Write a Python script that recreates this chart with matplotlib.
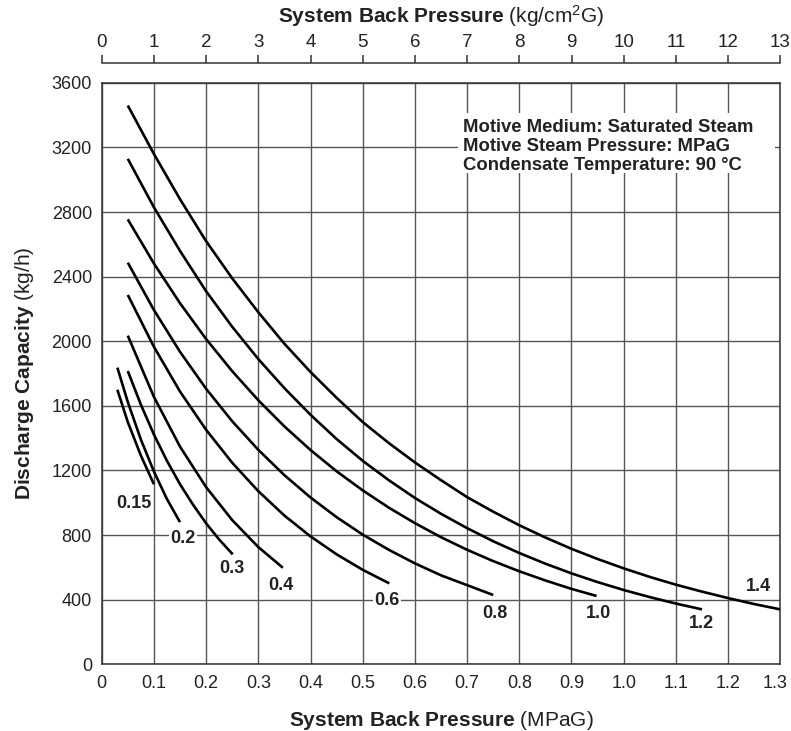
import matplotlib
matplotlib.use('Agg')
import matplotlib.pyplot as plt
import matplotlib.transforms as mtrans
from matplotlib.patches import Rectangle

plt.rcParams['font.family'] = ['Liberation Sans', 'DejaVu Sans']
plt.rcParams['mathtext.fontset'] = 'custom'
plt.rcParams['mathtext.rm'] = 'Liberation Sans'
plt.rcParams['mathtext.bf'] = 'Liberation Sans:bold'
plt.rcParams['mathtext.it'] = 'Liberation Sans:italic'

# ---------------- data ----------------
curve_names = ['0.15', '0.2', '0.3', '0.4', '0.6', '0.8', '1.0', '1.2', '1.4']

x_015 = [0.03, 0.05, 0.075, 0.10]
y_015 = [1700, 1500, 1293, 1115]

x_02 = [0.03, 0.05, 0.075, 0.10, 0.125, 0.15]
y_02 = [1837, 1624, 1392, 1194, 1023, 880]

x_03 = [0.05, 0.075, 0.10, 0.125, 0.15, 0.175, 0.20, 0.225, 0.251]
y_03 = [1816, 1608, 1423, 1260, 1115, 988, 873, 773, 681]

x_04 = [0.05, 0.10, 0.15, 0.20, 0.25, 0.30, 0.347]
y_04 = [2035, 1656, 1348, 1097, 893, 726, 598]

x_06 = [0.05, 0.10, 0.15, 0.20, 0.25, 0.30, 0.35, 0.40, 0.45, 0.50, 0.551]
y_06 = [2287, 1966, 1689, 1452, 1248, 1072, 921, 792, 681, 585, 501]

x_08 = [0.05, 0.10, 0.15, 0.20, 0.25, 0.30, 0.35, 0.40, 0.45, 0.50, 0.55,
        0.60, 0.65, 0.70, 0.75]
y_08 = [2487, 2194, 1935, 1706, 1505, 1328, 1171, 1033, 911, 803, 709,
        625, 551, 490, 429]

x_10 = [0.05, 0.10, 0.15, 0.20, 0.25, 0.30, 0.35, 0.40, 0.45, 0.50, 0.55,
        0.60, 0.65, 0.70, 0.75, 0.80, 0.85, 0.90, 0.948]
y_10 = [2755, 2482, 2236, 2014, 1815, 1635, 1473, 1327, 1195, 1077, 970,
        874, 787, 709, 639, 576, 519, 467, 423]

x_12 = [0.05, 0.10, 0.15, 0.20, 0.25, 0.30, 0.35, 0.40, 0.45, 0.50, 0.55,
        0.60, 0.65, 0.70, 0.75, 0.80, 0.85, 0.90, 0.95, 1.00, 1.05, 1.10, 1.15]
y_12 = [3130, 2830, 2560, 2310, 2090, 1890, 1710, 1545, 1395, 1260, 1140,
        1030, 932, 843, 762, 689, 623, 563, 509, 460, 416, 376, 340]

x_14 = [0.05, 0.10, 0.15, 0.20, 0.25, 0.30, 0.35, 0.40, 0.45, 0.50, 0.55,
        0.60, 0.65, 0.70, 0.75, 0.80, 0.85, 0.90, 0.95, 1.00, 1.05, 1.10,
        1.15, 1.20, 1.25, 1.30]
y_14 = [3460, 3160, 2880, 2620, 2390, 2180, 1985, 1810, 1650, 1500, 1370,
        1250, 1140, 1035, 945, 861, 785, 715, 652, 594, 541, 493,
        450, 410, 373, 340]

x_ticks_mpa = [0, 0.1, 0.2, 0.3, 0.4, 0.5, 0.6, 0.7, 0.8, 0.9, 1.0, 1.1, 1.2, 1.3]
x_ticklabels_mpa = ['0', '0.1', '0.2', '0.3', '0.4', '0.5', '0.6', '0.7', '0.8',
                    '0.9', '1.0', '1.1', '1.2', '1.3']
x_ticks_kg = list(range(0, 14))
y_ticks = [0, 400, 800, 1200, 1600, 2000, 2400, 2800, 3200, 3600]

note_lines = ['Motive Medium: Saturated Steam',
              'Motive Steam Pressure: MPaG',
              'Condensate Temperature: 90 \u00b0C']

# ---------------- layout (not data) ----------------
label_pos = [(0.061, 997), (0.156, 780), (0.249, 594), (0.343, 491),
             (0.546, 394), (0.753, 316), (0.951, 316), (1.149, 254),
             (1.258, 481)]

series_x = [x_015, x_02, x_03, x_04, x_06, x_08, x_10, x_12, x_14]
series_y = [y_015, y_02, y_03, y_04, y_06, y_08, y_10, y_12, y_14]

TXT = '#222222'
W, H = 791, 731
fig = plt.figure(figsize=(W / 100, H / 100), dpi=100)
ax = fig.add_axes([101.7 / W, 1 - 664.3 / H, 678.6 / W, 581.4 / H])

ax.set_xlim(0, 1.3)
ax.set_ylim(0, 3600)
ax.set_xticks(x_ticks_mpa)
ax.set_xticklabels(x_ticklabels_mpa)
ax.set_yticks(y_ticks)
ax.tick_params(axis='both', length=0, labelsize=13, colors=TXT)
ax.tick_params(axis='x', pad=8)
ax.tick_params(axis='y', pad=7)
ax.grid(True, color='#555555', linewidth=1.0)
ax.set_axisbelow(True)
for sp in ax.spines.values():
    sp.set_color('#333333')
    sp.set_linewidth(1.1)

# nudge the last bottom tick label so it stays inside the figure
last_lbl = ax.xaxis.get_major_ticks()[-1].label1
last_lbl.set_transform(last_lbl.get_transform() +
                       mtrans.ScaledTranslation(-5 / 100, 0, fig.dpi_scale_trans))

for xs, ys in zip(series_x, series_y):
    ax.plot(xs, ys, color='black', linewidth=1.9, solid_capstyle='butt', zorder=3)

for name, (lx, ly) in zip(curve_names, label_pos):
    ax.text(lx, ly, name, ha='center', va='center', fontsize=13,
            fontweight='bold', color=TXT, zorder=4,
            bbox=dict(facecolor='white', edgecolor='none', pad=1.0))

# note box
ax.add_patch(Rectangle(((458 - 101.7) / 678.6, (664.3 - 173) / 581.4),
                       (775 - 458) / 678.6, (173 - 113) / 581.4,
                       transform=ax.transAxes, facecolor='white',
                       edgecolor='none', zorder=2))
for i, line in enumerate(note_lines):
    py = 127 + 19.5 * i
    ax.text((463 - 101.7) / 678.6, (664.3 - py) / 581.4, line,
            transform=ax.transAxes, ha='left', va='center', fontsize=13.3,
            fontweight='bold', color=TXT, zorder=4)

ax.set_xlabel(r'$\bf{System\ Back\ Pressure}$ (MPaG)', fontsize=15,
              color=TXT, labelpad=12)
ax.set_ylabel(r'$\bf{Discharge\ Capacity}$ (kg/h)', fontsize=15,
              color=TXT, labelpad=11)

# top secondary axis (kg/cm2G)
ax2 = ax.twiny()
ax2.set_xlim(0, 13)
ax2.set_xticks(x_ticks_kg)
ax2.spines['top'].set_position(('outward', 14))
for k in ['left', 'right', 'bottom']:
    ax2.spines[k].set_visible(False)
ax2.spines['top'].set_color('#333333')
ax2.spines['top'].set_linewidth(1.1)
ax2.tick_params(axis='x', direction='out', length=6, width=1.1,
                colors='#333333', labelsize=13.5, labelcolor=TXT, pad=3)
ax2.set_xlabel(r'$\bf{System\ Back\ Pressure}$ (kg/cm$^2$G)', fontsize=15,
               color=TXT, labelpad=8)

fig.savefig('out.png', dpi=100)
